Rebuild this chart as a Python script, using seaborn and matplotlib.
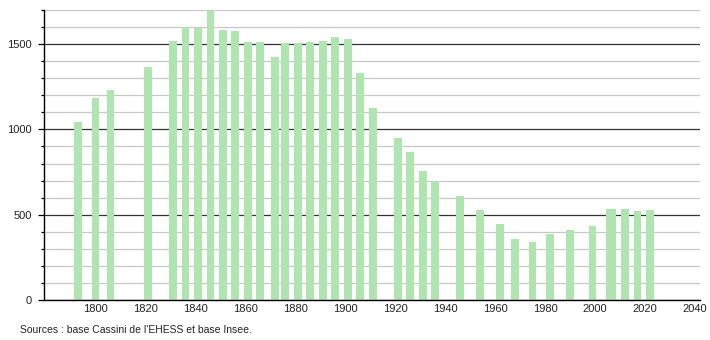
import matplotlib
matplotlib.use("Agg")
import matplotlib.pyplot as plt
from matplotlib.ticker import MultipleLocator
import seaborn as sns
import pandas as pd

years = [1793, 1800, 1806, 1821, 1831, 1836, 1841, 1846, 1851, 1856,
         1861, 1866, 1872, 1876, 1881, 1886, 1891, 1896, 1901, 1906,
         1911, 1921, 1926, 1931, 1936, 1946, 1954, 1962, 1968, 1975,
         1982, 1990, 1999, 2006, 2007, 2012, 2017, 2022]
population = [1041, 1182, 1230, 1363, 1518, 1598, 1594, 1692, 1583, 1577,
              1510, 1510, 1422, 1506, 1506, 1510, 1516, 1539, 1528, 1330,
              1124, 947, 865, 757, 696, 610, 529, 447, 359, 341,
              388, 412, 435, 535, 535, 535, 524, 529]
x_ticks = [1800, 1820, 1840, 1860, 1880, 1900, 1920, 1940, 1960, 1980, 2000, 2020, 2040]
source_text = "Sources : base Cassini de l'EHESS et base Insee."

df = pd.DataFrame({"year": years, "pop": population})

sns.set_style("white")
plt.rcParams["font.family"] = ["Liberation Sans", "DejaVu Sans"]

fig = plt.figure(figsize=(7.1, 3.4), dpi=100)
ax = fig.add_axes([44 / 710, 40 / 340, (700 - 44) / 710, 290 / 340])

sns.barplot(data=df, x="year", y="pop", native_scale=True, width=3.1,
            color="#b0e4b0", saturation=1, errorbar=None, ax=ax,
            linewidth=0, edgecolor="none")

ax.set_xlim(1779.4, 2042.0)
ax.set_ylim(0, 1700)
ax.set_xlabel("")
ax.set_ylabel("")

ax.yaxis.set_major_locator(MultipleLocator(500))
ax.yaxis.set_minor_locator(MultipleLocator(100))
ax.set_xticks(x_ticks)
ax.set_xticklabels([str(t) for t in x_ticks])

ax.set_axisbelow(True)
ax.grid(False)
ax.yaxis.grid(True, which="minor", color="#c8c8c8", lw=0.9)
ax.yaxis.grid(True, which="major", color="#333333", lw=0.9)

for s in ["top", "right"]:
    ax.spines[s].set_visible(False)
for s in ["left", "bottom"]:
    ax.spines[s].set_color("black")
    ax.spines[s].set_linewidth(1.0)
    ax.spines[s].set_zorder(5)

ax.tick_params(axis="y", which="major", length=4, width=0.9, color="black",
               labelsize=8, pad=5, left=True)
ax.tick_params(axis="y", which="minor", length=2, width=0.9, color="black", left=True)
ax.tick_params(axis="x", which="both", length=0, labelsize=8, pad=3)
for lab in ax.get_xticklabels() + ax.get_yticklabels():
    lab.set_color("#222222")

fig.text(20 / 710, 1 - 330 / 340, source_text, fontsize=7.5, color="#222222",
         ha="left", va="center")

fig.savefig("out.png", dpi=100)
